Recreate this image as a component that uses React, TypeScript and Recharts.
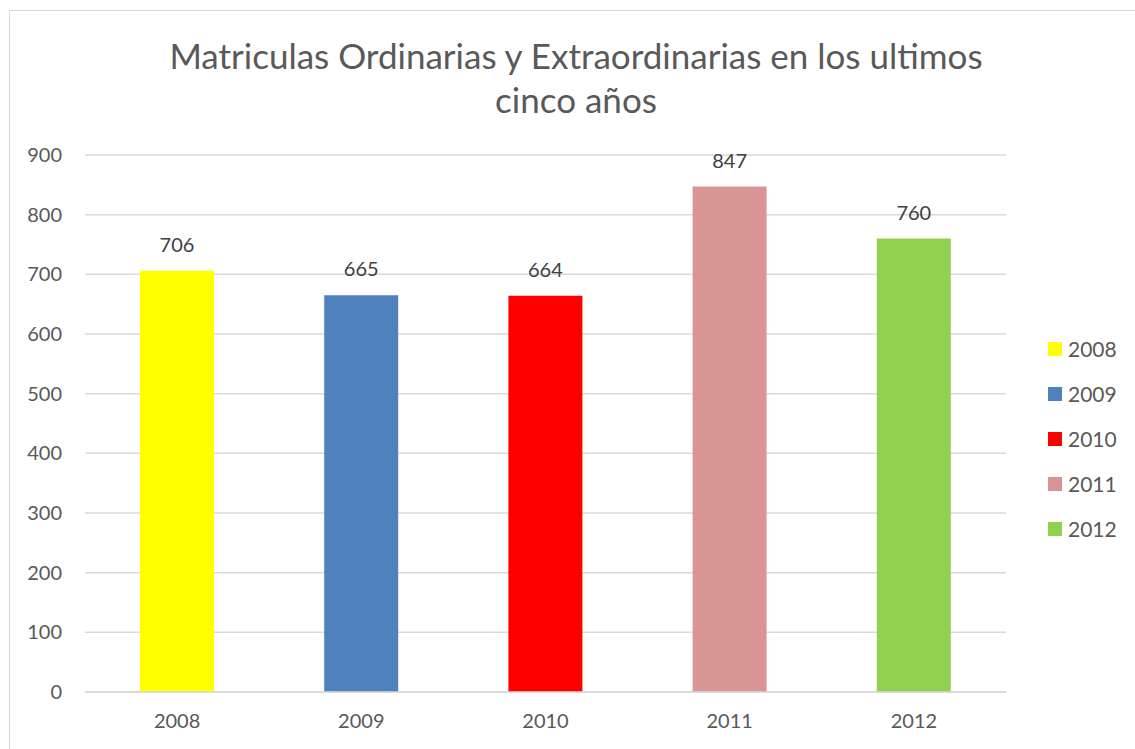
import { BarChart, Bar, Cell, XAxis, YAxis, CartesianGrid, LabelList } from "recharts";

const YEARS = ["2008", "2009", "2010", "2011", "2012"];
const ENROLLMENTS = [706, 665, 664, 847, 760];
const COLORS = ["#FFFF00", "#4F81BD", "#FF0000", "#D99594", "#92D050"];
const Y_TICKS = [0, 100, 200, 300, 400, 500, 600, 700, 800, 900];

const data = YEARS.map((year, i) => ({ year, value: ENROLLMENTS[i] }));

const FONT = "Lato, 'Open Sans', sans-serif";
const TEXT = "#595959";

function YearLegend() {
  return (
    <div style={{ display: "flex", flexDirection: "column", gap: 18 }}>
      {YEARS.map((year, i) => (
        <div key={year} style={{ display: "flex", alignItems: "center", height: 27 }}>
          <span style={{ width: 14, height: 14, background: COLORS[i], marginRight: 6 }} />
          <span style={{ fontFamily: FONT, fontSize: 21, color: TEXT }}>{year}</span>
        </div>
      ))}
    </div>
  );
}

export default function App() {
  return (
    <div style={{ position: "fixed", left: 0, top: 0, width: 1135, height: 749, background: "#fff", overflow: "hidden" }}>
      <div
        style={{
          position: "absolute",
          left: 9,
          top: 10,
          width: 1200,
          height: 800,
          border: "1px solid #d9d9d9",
        }}
      />
      <div
        style={{
          position: "absolute",
          left: 0,
          width: 1152,
          top: 33,
          textAlign: "center",
          fontFamily: FONT,
          fontSize: 35,
          lineHeight: "44px",
          color: TEXT,
        }}
      >
        Matriculas Ordinarias y Extraordinarias en los ultimos
        <br />
        cinco años
      </div>
      <div style={{ position: "absolute", left: 0, top: 0 }}>
        <BarChart width={1135} height={749} data={data} margin={{ top: 155, right: 129, bottom: 27, left: 0 }}>
          <CartesianGrid vertical={false} stroke="#d9d9d9" strokeWidth={1.5} />
          <XAxis
            dataKey="year"
            stroke="#d9d9d9"
            strokeWidth={1.5}
            tickLine={false}
            tickSize={0}
            tickMargin={22}
            height={30}
            tick={{ fill: TEXT, fontFamily: FONT, fontSize: 20 }}
          />
          <YAxis
            domain={[0, 900]}
            ticks={Y_TICKS}
            width={85}
            axisLine={false}
            tickLine={false}
            tickSize={0}
            tickMargin={23}
            tick={{ fill: TEXT, fontFamily: FONT, fontSize: 20 }}
          />
          <Bar dataKey="value" barSize={74} isAnimationActive={false}>
            {data.map((d, i) => (
              <Cell key={d.year} fill={COLORS[i]} />
            ))}
            <LabelList dataKey="value" position="top" offset={19} fill="#404040" fontFamily={FONT} fontSize={20} />
          </Bar>
        </BarChart>
      </div>
      <div style={{ position: "absolute", left: 1048, top: 335 }}>
        <YearLegend />
      </div>
    </div>
  );
}
